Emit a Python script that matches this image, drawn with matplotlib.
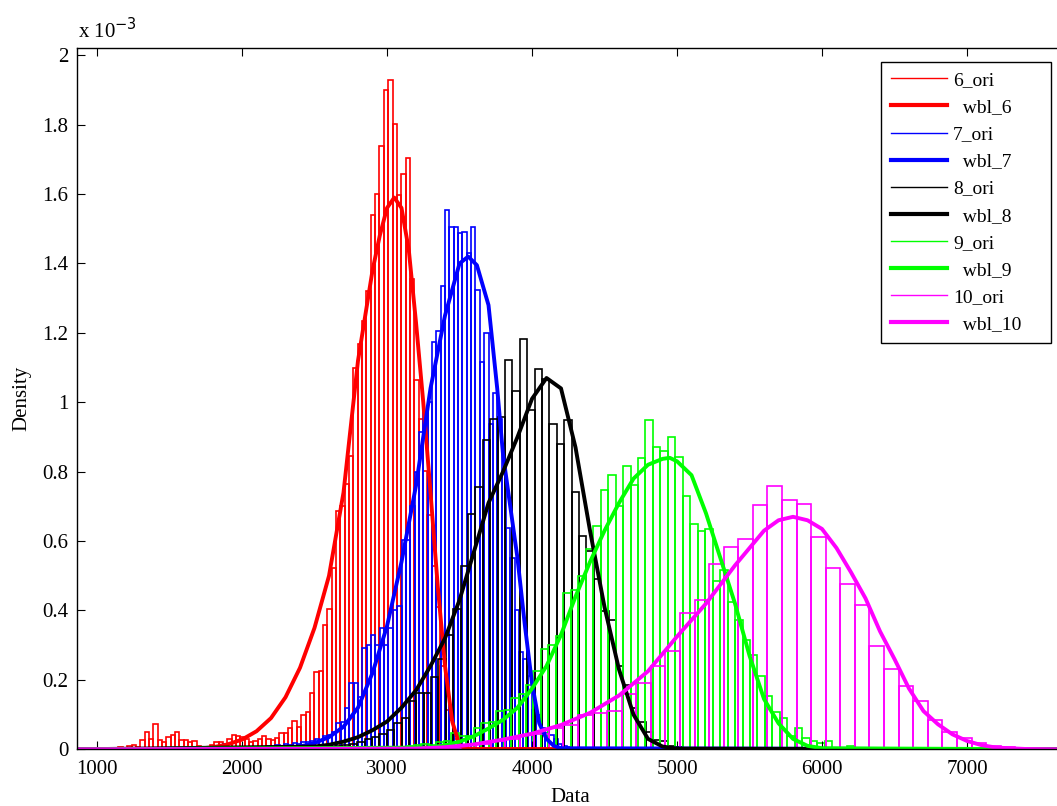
import numpy as np
import matplotlib
matplotlib.use("Agg")
import matplotlib.pyplot as plt
from matplotlib.lines import Line2D
from matplotlib.ticker import FuncFormatter

# histogram bins: first left edge, bin width, densities (x 1e-3)
red_start, red_width = 1148, 30
red_heights = [0.006, 0.004, 0.010, 0.012, 0.008, 0.027, 0.049, 0.030, 0.072, 0.027,
               0.020, 0.035, 0.040, 0.049, 0.027, 0.027, 0.020, 0.025, 0.010, 0.008,
               0.005, 0.012, 0.020, 0.020, 0.015, 0.030, 0.040, 0.037, 0.035, 0.030,
               0.020, 0.025, 0.030, 0.039, 0.030, 0.028, 0.032, 0.046, 0.046, 0.060,
               0.082, 0.065, 0.100, 0.107, 0.163, 0.222, 0.225, 0.357, 0.403, 0.522,
               0.686, 0.700, 0.765, 0.845, 1.100, 1.167, 1.235, 1.321, 1.540, 1.600,
               1.740, 1.899, 1.930, 1.803, 1.598, 1.658, 1.704, 1.354, 1.063, 0.952,
               0.803, 0.676, 0.528, 0.409, 0.240, 0.114, 0.085, 0.030, 0.012, 0.005]

blue_start, blue_width = 1720, 30
blue_heights = [0.008, 0.0, 0.0, 0.0, 0.004, 0.016,
                0.003, 0.005, 0.002, 0.004, 0.006, 0.003, 0.005, 0.008, 0.006, 0.010,
                0.008, 0.012, 0.010, 0.015, 0.012, 0.018, 0.015, 0.020, 0.022, 0.025,
                0.030, 0.028, 0.037, 0.040, 0.050, 0.077, 0.080, 0.120, 0.190, 0.190,
                0.150, 0.293, 0.300, 0.330, 0.300, 0.350, 0.300, 0.350, 0.400, 0.413,
                0.603, 0.603, 0.700, 0.800, 0.915, 0.972, 1.000, 1.175, 1.205, 1.335,
                1.554, 1.506, 1.505, 1.487, 1.490, 1.430, 1.506, 1.323, 1.116, 1.200,
                0.938, 1.027, 0.952, 0.800, 0.639, 0.550, 0.400, 0.280, 0.259, 0.210,
                0.114, 0.100, 0.060, 0.048, 0.040, 0.030, 0.015, 0.010, 0.008, 0.005]

black_start, black_width = 2284, 51
black_heights = [0.003, 0.002, 0.005, 0.004, 0.006, 0.005, 0.008, 0.010, 0.012, 0.015,
                 0.020, 0.030, 0.035, 0.045, 0.055, 0.076, 0.090, 0.138, 0.163, 0.163,
                 0.207, 0.259, 0.330, 0.403, 0.528, 0.678, 0.757, 0.892, 0.952, 0.957,
                 1.123, 1.032, 1.183, 0.978, 1.097, 1.068, 0.938, 0.880, 0.950, 0.741,
                 0.615, 0.572, 0.490, 0.398, 0.374, 0.239, 0.186, 0.120, 0.080, 0.050,
                 0.027, 0.025, 0.010, 0.008, 0.005, 0.003, 0.002, 0.001]

green_start, green_width = 2671, 51.5
green_heights = [0.002, 0.003, 0.002, 0.004, 0.005, 0.004, 0.006, 0.008, 0.007, 0.010,
                 0.012, 0.015, 0.013, 0.020, 0.023, 0.048, 0.037, 0.037, 0.061, 0.075,
                 0.080, 0.110, 0.114, 0.148, 0.158, 0.186, 0.225, 0.288, 0.300, 0.326,
                 0.449, 0.458, 0.499, 0.577, 0.644, 0.748, 0.790, 0.702, 0.816, 0.762,
                 0.840, 0.950, 0.870, 0.861, 0.899, 0.842, 0.731, 0.649, 0.630, 0.634,
                 0.485, 0.517, 0.425, 0.372, 0.314, 0.273, 0.210, 0.153, 0.107, 0.090,
                 0.037, 0.061, 0.032, 0.025, 0.018, 0.023, 0.005, 0.005, 0.010, 0.003]

magenta_start, magenta_width = 3011, 100.5
magenta_heights = [0.001, 0.002, 0.003, 0.005, 0.008, 0.012, 0.015, 0.025, 0.030, 0.040,
                   0.045, 0.060, 0.071, 0.100, 0.105, 0.109, 0.158, 0.191, 0.239, 0.283,
                   0.392, 0.429, 0.535, 0.583, 0.605, 0.704, 0.758, 0.718, 0.707, 0.612,
                   0.522, 0.475, 0.415, 0.299, 0.230, 0.181, 0.138, 0.083, 0.049, 0.034,
                   0.018, 0.010, 0.008, 0.005, 0.002]

# fitted weibull curves (x 1e-3)
wbl6_x = [870, 1700, 1800, 1900, 2000, 2100, 2200, 2300, 2400, 2500, 2600, 2700, 2800,
          2900, 2950, 3000, 3050, 3100, 3150, 3200, 3250, 3300, 3350, 3400, 3450, 3500,
          3550, 7650]
wbl6_y = [0.0, 0.002, 0.006, 0.014, 0.028, 0.052, 0.090, 0.150, 0.235, 0.350, 0.500,
          0.740, 1.120, 1.380, 1.480, 1.560, 1.590, 1.560, 1.440, 1.230, 1.000, 0.740,
          0.470, 0.240, 0.080, 0.012, 0.001, 0.0]

wbl7_x = [870, 2300, 2400, 2500, 2600, 2700, 2800, 2900, 3000, 3100, 3200, 3300, 3400,
          3500, 3560, 3620, 3700, 3760, 3800, 3850, 3900, 3950, 4000, 4050, 4100, 4150,
          4200, 7650]
wbl7_y = [0.0, 0.003, 0.008, 0.018, 0.035, 0.065, 0.120, 0.220, 0.355, 0.540, 0.760,
          1.040, 1.250, 1.400, 1.420, 1.395, 1.280, 1.040, 0.850, 0.700, 0.550, 0.360,
          0.190, 0.075, 0.030, 0.010, 0.003, 0.0]

wbl8_x = [870, 2500, 2600, 2700, 2800, 2900, 3000, 3100, 3200, 3300, 3400, 3500, 3600,
          3700, 3800, 3900, 4000, 4100, 4200, 4300, 4400, 4500, 4600, 4700, 4800, 4900,
          5000, 7650]
wbl8_y = [0.0, 0.008, 0.013, 0.022, 0.035, 0.055, 0.080, 0.120, 0.170, 0.240, 0.320,
          0.430, 0.570, 0.710, 0.800, 0.900, 1.010, 1.070, 1.040, 0.870, 0.630, 0.410,
          0.230, 0.100, 0.030, 0.008, 0.002, 0.0]

wbl9_x = [870, 3300, 3400, 3500, 3600, 3700, 3800, 3900, 4000, 4100, 4200, 4300, 4400,
          4500, 4600, 4700, 4800, 4900, 4950, 5000, 5100, 5200, 5300, 5400, 5500, 5600,
          5700, 5800, 5900, 6000, 7650]
wbl9_y = [0.0, 0.005, 0.012, 0.022, 0.038, 0.060, 0.085, 0.120, 0.175, 0.240, 0.330,
          0.440, 0.540, 0.630, 0.710, 0.780, 0.820, 0.837, 0.840, 0.830, 0.790, 0.680,
          0.550, 0.420, 0.270, 0.145, 0.075, 0.030, 0.010, 0.003, 0.0]

wbl10_x = [870, 3200, 3400, 3600, 3800, 4000, 4200, 4400, 4600, 4800, 5000, 5200, 5400,
           5600, 5700, 5800, 5900, 6000, 6100, 6200, 6300, 6400, 6500, 6600, 6700, 6800,
           6900, 7000, 7100, 7200, 7400, 7650]
wbl10_y = [0.0, 0.002, 0.006, 0.014, 0.028, 0.045, 0.070, 0.105, 0.155, 0.225, 0.325,
           0.420, 0.530, 0.630, 0.660, 0.670, 0.660, 0.635, 0.580, 0.510, 0.435, 0.340,
           0.260, 0.175, 0.110, 0.072, 0.043, 0.024, 0.012, 0.005, 0.001, 0.0]

labels = ["6", "7", "8", "9", "10"]
colors = ["#ff0000", "#0000ff", "#000000", "#00ff00", "#ff00ff"]

hists = [(red_start, red_width, red_heights),
         (blue_start, blue_width, blue_heights),
         (black_start, black_width, black_heights),
         (green_start, green_width, green_heights),
         (magenta_start, magenta_width, magenta_heights)]
curves = [(wbl6_x, wbl6_y), (wbl7_x, wbl7_y), (wbl8_x, wbl8_y),
          (wbl9_x, wbl9_y), (wbl10_x, wbl10_y)]

plt.rcParams["font.family"] = ["Liberation Serif", "DejaVu Serif"]
plt.rcParams["font.size"] = 15

fig = plt.figure(figsize=(10.57, 8.06), dpi=100)
ax = fig.add_axes([77 / 1057, 1 - 749.3 / 806, 986 / 1057, 701.3 / 806])

handles = []
for (start, width, heights), (cx, cy), lab, c in zip(hists, curves, labels, colors):
    edges = start + width * np.arange(len(heights))
    ax.bar(edges, heights, width=width, align="edge", fill=False,
           edgecolor=c, linewidth=1.2)
    ax.plot(cx, cy, color=c, linewidth=2.8, solid_joinstyle="round")
    handles.append(Line2D([], [], color=c, linewidth=1.0))
    handles.append(Line2D([], [], color=c, linewidth=3.0))

legend_labels = []
for lab in labels:
    legend_labels.append(lab + "_ori")
    legend_labels.append("  wbl_" + lab)

ax.set_xlim(862, 7662)
ax.set_ylim(0, 2.021)
ax.set_xticks([1000, 2000, 3000, 4000, 5000, 6000, 7000])
ax.set_yticks(np.arange(0, 2.01, 0.2))
ax.yaxis.set_major_formatter(FuncFormatter(lambda v, p: "%g" % round(v, 1)))
ax.tick_params(direction="in", top=True, right=False, length=6, width=0.8,
               labelsize=15, pad=6)
ax.tick_params(axis="x", pad=8)
for s in ax.spines.values():
    s.set_linewidth(1.0)

ax.set_xlabel("Data", fontsize=15, labelpad=6)
ax.set_ylabel("Density", fontsize=15, labelpad=8)
fig.text(78 / 1057, 1 - 38 / 806, r"x 10$^{-3}$", fontsize=15,
         ha="left", va="baseline")

leg = ax.legend(handles, legend_labels, loc="upper left", mode="expand",
                bbox_to_anchor=((881 - 77) / 986, 0.5, 170 / 986,
                                (749.3 - 61.7) / 701.3 - 0.5),
                borderaxespad=0, fancybox=False, framealpha=1, edgecolor="black",
                fontsize=14, handlelength=2.9, handletextpad=0.3,
                labelspacing=0.49, borderpad=0.5)
leg.get_frame().set_linewidth(1.0)

fig.savefig("out.png", dpi=100)
